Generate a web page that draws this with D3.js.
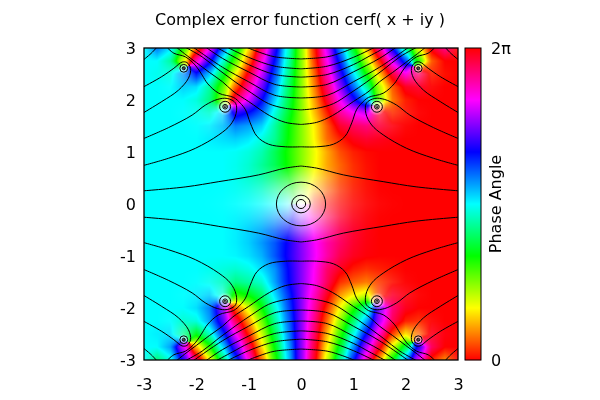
<!DOCTYPE html>
<html><head><meta charset="utf-8">
<style>html,body{margin:0;padding:0;background:#fff;width:600px;height:400px;overflow:hidden}
#wrap{position:relative;width:600px;height:400px}canvas,svg{position:absolute;left:0;top:0}</style>
<script src="https://cdnjs.cloudflare.com/ajax/libs/d3/7.8.5/d3.min.js"></script>
</head><body><div id="wrap"></div>
<script>
const title = "Complex error function cerf( x + iy )";
const axisTicks = [-3,-2,-1,0,1,2,3];
const colorbarTicks = [0,1];
const colorbarTickLabels = ["0","2π"];
const colorbarLabel = "Phase Angle";
// hue in percent of a full turn, upper right quadrant; rows y=3..0, columns x=0..3, step 0.25
const hueQuadrant = [
[25,2.5,80,57,35,12,89,66,43,18,98,91,100],
[25,4.5,84,64,43,22,2,81,62,31,6,100,100],
[25,7,88,70,52,33,13,96,85,93,2,1,0],
[25,9,93,76,60,44,22,6,98,97,100,0,0],
[25,11,97,83,69,56,26,8,2,0,0,0,0],
[25,13,2,90,84,80,97,3,1,0,0,0,0],
[25,16,6,97,94,92,96,99,0,0,0,0,0],
[25,16.5,7,2,98.5,97,98,99,0,0,0,0,0],
[25,18,11,5,2,0.5,0,0,0,0,0,0,0],
[25,17.6,11,6.6,3,1,0,0,0,0,0,0,0],
[25,16,10,5.5,3,1,0,0,0,0,0,0,0],
[25,12,6,3,1.5,0.6,0,0,0,0,0,0,0],
[25,0,0,0,0,0,0,0,0,0,0,0,0]];
// saturation, same layout
const satQuadrant = [
[1,1,1,1,1,1,1,1,1,1,1,1,.87],
[1,1,1,1,1,1,1,1,1,1,1,1,1],
[1,1,1,1,1,1,1,1,1,.75,.92,1,1],
[1,1,1,1,1,1,1,1,1,.98,.95,1,1],
[1,1,1,1,1,1,.92,1,1,1,1,1,1],
[1,1,1,1,1,1,.7,.88,.92,.97,1,1,1],
[1,1,1,1,1,1,.9,.9,.97,1,1,1,1],
[1,1,1,1,1,1,1,1,1,1,1,1,1],
[1,1,1,1,1,1,1,1,1,1,1,1,1],
[.99,1,1,1,1,1,1,1,1,1,1,1,1],
[.61,.67,.79,.92,.98,.99,1,1,1,1,1,1,1],
[.28,.4,.59,.78,.9,.96,.99,1,1,1,1,1,1],
[0,.28,.52,.71,.84,.92,.97,.99,1,1,1,1,1]];
// pale spots at the zeros: x, y, radius (upper right quadrant)
const paleSpots = [[1.45,1.87,.17],[2.24,2.61,.11]];
// contour rings: origin rings are drawn once, the others in every quadrant (x, y, rx, ry)
const originRings = [[0,0,.47,.42],[0,0,.178,.17],[0,0,.089,.087]];
const zeroRings = [[1.45,1.87,.105,.105],[1.45,1.87,.045,.045],[1.45,1.87,.02,.02],
[2.24,2.61,.075,.075],[2.24,2.61,.03,.03],[2.24,2.61,.014,.014]];
// contour lines traced in the upper right quadrant (x, y)
const lineLevel1a = [[0,.73],[.3,.69],[.81,.56],[1.57,.43],[2.2,.33],[3.05,.25]];
const lineFinger1 = [[3.05,1.24],[2.53,1.47],[2.08,1.71],[1.83,1.9],[1.6,2.01],[1.41,2.03],[1.25,1.94],[1.24,1.74],[1.35,1.52],[1.57,1.33],[2.02,1.07],[2.53,.88],[3.05,.73]];
const lineFinger2 = [[3.05,2.23],[2.66,2.45],[2.43,2.61],[2.27,2.73],[2.18,2.72],[2.11,2.61],[2.15,2.42],[2.34,2.19],[2.66,1.97],[3.05,1.73]];
const lineCorner = [[3.05,2.74],[2.86,2.9],[2.74,3.03]];
const lineLevel2 = [[0,1.1],[.3,1.1],[.62,1.15],[.84,1.3],[.97,1.56],[1.06,1.81],[1.16,1.94],[1.29,2.05],[1.57,2.13],[1.78,2.31],[1.89,2.48],[2.02,2.67],[2.21,2.83],[2.43,2.9],[2.58,3.03]];
const lineLevel5 = [[0,1.53],[.3,1.57],[.6,1.7],[1,1.97],[1.3,2.17],[1.5,2.35],[1.75,2.53],[2,2.72],[2.2,2.87],[2.4,3.03]];
const lineLevel10 = [[0,1.81],[.3,1.84],[.62,1.93],[.94,2.13],[1.26,2.35],[1.57,2.58],[1.89,2.83],[2.24,3.03]];
const lineLevel20 = [[0,2.04],[.5,2.09],[1,2.35],[1.5,2.63],[2.08,3.03]];
const lineLevel50 = [[0,2.25],[.5,2.3],[1,2.54],[1.5,2.8],[1.84,3.03]];
const lineLevel100 = [[0,2.44],[.5,2.49],[1,2.68],[1.3,2.84],[1.65,3.03]];
const lineLevel200 = [[0,2.6],[.5,2.65],[1,2.82],[1.44,3.03]];
const lineLevel500 = [[0,2.79],[.5,2.83],[.8,2.92],[1.08,3.03]];
const contourLines = [lineLevel1a,lineFinger1,lineFinger2,lineCorner,lineLevel2,lineLevel5,lineLevel10,lineLevel20,lineLevel50,lineLevel100,lineLevel200,lineLevel500];
const mirrors = [[1,1],[-1,1],[1,-1],[-1,-1]];

const L=144,R=458,T=48,B=360, CL=465,CR=481;
const xs=d3.scaleLinear().domain([-3,3]).range([L,R]);
const ys=d3.scaleLinear().domain([-3,3]).range([B,T]);
const cb=d3.scaleLinear().domain([0,1]).range([B,T]);
const colIdx=d3.scaleLinear().domain([0,3]).range([0,12]);
const rowIdx=d3.scaleLinear().domain([3,0]).range([0,12]);

function hsv(h,s){ h=((h%1)+1)%1;
  const f=n=>{const k=(n+h*6)%6;return Math.round(255*(1-s*Math.max(0,Math.min(k,4-k,1))));};
  return [f(5),f(3),f(1)];
}
function sample(x,y){
  const ax=Math.abs(x),ay=Math.abs(y);
  const ci=Math.min(colIdx(ax),11.9999),ri=Math.min(rowIdx(ay),11.9999);
  const c0=Math.floor(ci),r0=Math.floor(ri),u=ci-c0,v=ri-r0;
  let vx=0,vy=0,sat=0;
  [[r0,c0,(1-u)*(1-v)],[r0,c0+1,u*(1-v)],[r0+1,c0,(1-u)*v],[r0+1,c0+1,u*v]].forEach(([r,c,w])=>{
    const a=hueQuadrant[r][c]/100*2*Math.PI;
    vx+=w*Math.cos(a);vy+=w*Math.sin(a);sat+=w*satQuadrant[r][c];
  });
  paleSpots.forEach(([px,py,pr])=>{
    const d=Math.hypot(ax-px,ay-py);
    if(d<pr) sat*=d/pr;
  });
  let h=Math.atan2(vy,vx)/(2*Math.PI);
  if(x<0) h=.5-h;
  if(y<0) h=-h;
  return hsv(h,sat);
}
const wrap=d3.select("#wrap");
const canvas=wrap.append("canvas").attr("width",600).attr("height",400).node();
const ctx=canvas.getContext("2d");
const img=ctx.createImageData(R-L,B-T);
for(let j=0;j<B-T;j++)for(let i=0;i<R-L;i++){
  const [r,g,b]=sample(xs.invert(L+i+.5),ys.invert(T+j+.5));
  const k=4*(j*(R-L)+i);img.data[k]=r;img.data[k+1]=g;img.data[k+2]=b;img.data[k+3]=255;
}
ctx.putImageData(img,L,T);

const svg=wrap.append("svg").attr("width",600).attr("height",400);
const font='"DejaVu Sans",sans-serif';
svg.append("defs").append("clipPath").attr("id","plot").append("rect").attr("x",L).attr("y",T).attr("width",R-L).attr("height",B-T);
const gC=svg.append("g").attr("clip-path","url(#plot)").attr("fill","none").attr("stroke","#000").attr("stroke-width",1);
const line=d3.line().x(d=>xs(d[0])).y(d=>ys(d[1])).curve(d3.curveCatmullRom.alpha(.5));
function drawRing([cx,cy,rx,ry],mx,my){
  gC.append("ellipse").attr("cx",xs(cx*mx)).attr("cy",ys(cy*my))
    .attr("rx",xs(rx)-xs(0)).attr("ry",ys(0)-ys(ry));
}
originRings.forEach(r=>drawRing(r,1,1));
mirrors.forEach(([mx,my])=>{
  contourLines.forEach(pts=>{
    gC.append("path").attr("d",line(pts.map(p=>[p[0]*mx,p[1]*my])));
  });
  zeroRings.forEach(r=>drawRing(r,mx,my));
});
// colour bar
const cbSteps=d3.range(T,B);
svg.append("g").selectAll("rect").data(cbSteps).join("rect")
  .attr("x",CL).attr("width",CR-CL).attr("y",d=>d).attr("height",1.2)
  .attr("fill",d=>{const c=hsv(cb.invert(d+.5),1);return `rgb(${c[0]},${c[1]},${c[2]})`;});
svg.append("rect").attr("x",CL).attr("y",T).attr("width",CR-CL).attr("height",B-T).attr("fill","none").attr("stroke","#000").attr("stroke-width",1);
svg.append("rect").attr("x",L).attr("y",T).attr("width",R-L).attr("height",B-T).attr("fill","none").attr("stroke","#000").attr("stroke-width",1.3);
// axes
const fmt=d=>String(d);
const ax=svg.append("g").attr("transform",`translate(0,${B})`).call(d3.axisBottom(xs).tickValues(axisTicks).tickFormat(fmt).tickSize(0).tickPadding(19));
const ay=svg.append("g").attr("transform",`translate(${L},0)`).call(d3.axisLeft(ys).tickValues(axisTicks).tickFormat(fmt).tickSize(0).tickPadding(8));
const ac=svg.append("g").attr("transform",`translate(${CR},0)`).call(d3.axisRight(cb).tickValues(colorbarTicks).tickFormat((d,i)=>colorbarTickLabels[i]).tickSize(0).tickPadding(10));
[ax,ay,ac].forEach(g=>{g.select(".domain").remove();g.selectAll("text").attr("font-family",font).attr("font-size",16).attr("fill","#000");});
svg.append("text").attr("x",300).attr("y",25).attr("text-anchor","middle").attr("font-family",font).attr("font-size",16).text(title);
svg.append("text").attr("transform","translate(501,204) rotate(-90)").attr("text-anchor","middle").attr("font-family",font).attr("font-size",16).text(colorbarLabel);
</script></body></html>
